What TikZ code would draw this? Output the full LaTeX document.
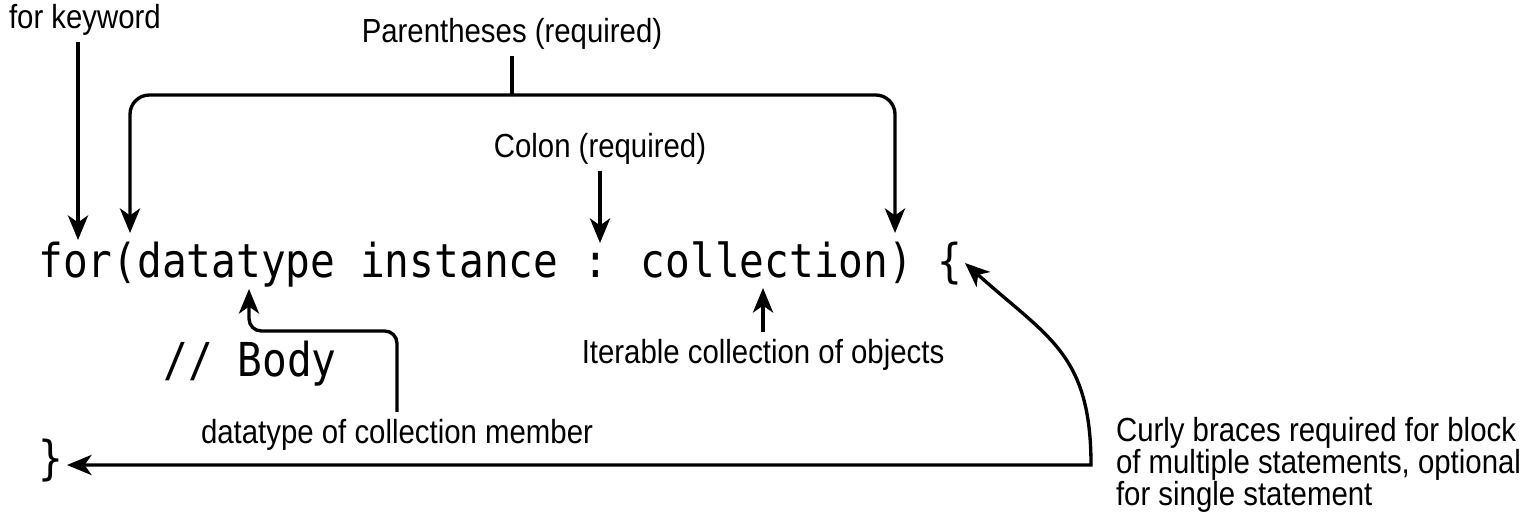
\documentclass[tikz,border=0pt]{standalone}
\usepackage{fontspec}
\newfontfamily\notefont{Liberation Sans}[FakeStretch=0.88]
\newfontfamily\codefont{DejaVu Sans Mono}[FakeStretch=0.88]
\newcommand\notesize{\fontsize{19}{18.2}\selectfont\lineskiplimit -20pt\relax}
\usetikzlibrary{arrows.meta}

\begin{document}
\begin{tikzpicture}
	[x=0.02cm,y=-0.02cm,
	 >={Stealth[length=14pt,width=11.5pt,inset=4pt]},
	 code/.style={font=\codefont\fontsize{26.6}{30}\selectfont,inner sep=0pt,anchor=base west},
	 note/.style={font=\notefont\notesize,inner sep=0pt,outer sep=4pt,align=left},
	 pointer/.style={->,line width=1.9pt},
	 connector/.style={line width=1.9pt}];
\useasboundingbox (0,0) rectangle (1523,528);
% the code
\node[code] (head) at (38,277) {for(datatype instance : collection) \{};
\node[code] (body) at (163,376) {// Body};
\node[code] (tail) at (38,474) {\}};
% where the arrows end
\coordinate (fortip) at (78,240);
\coordinate (lparen) at (130,233);
\coordinate (rparen) at (895,233);
\coordinate (bar) at (512,95);
\coordinate (colontip) at (600,243);
\coordinate (typetip) at (249,289);
\coordinate (typebend) at (249,331);
\coordinate (itertip) at (763,288);
\coordinate (closetip) at (67,465);
\coordinate (turn) at (1091,465);
\coordinate (opentip) at (965,263);
% the labels
\node[note,anchor=base west] (kw) at (2,28) {for keyword};
\node[note,anchor=base] (parens) at (512,42) {Parentheses (required)};
\node[note,anchor=base] (colon) at (600,157) {Colon (required)};
\node[note,anchor=base] (member) at (397,443) {datatype of collection member};
\node[note,anchor=base] (iter) at (763,363) {Iterable collection of objects};
\node[note,anchor=base west] (braces) at (1109,505) {Curly braces required for block\\of multiple statements, optional\\for single statement};

\draw[pointer] (fortip |- kw.south) -- (fortip);
\draw[connector] (bar |- parens.south) -- (bar);
\draw[pointer,rounded corners=11pt] (bar) -| (lparen);
\draw[pointer,rounded corners=11pt] (bar) -| (rparen);
\draw[pointer] (colontip |- colon.south) -- (colontip);
\draw[pointer,rounded corners=7pt] (member.north) |- (typebend) -- (typetip);
\draw[pointer] (itertip |- iter.north) -- (itertip);
\draw[<->,line width=1.9pt] (closetip) -- (turn) to[out=90,in=-42,looseness=1.2] (opentip);
\end{tikzpicture}
\end{document}
